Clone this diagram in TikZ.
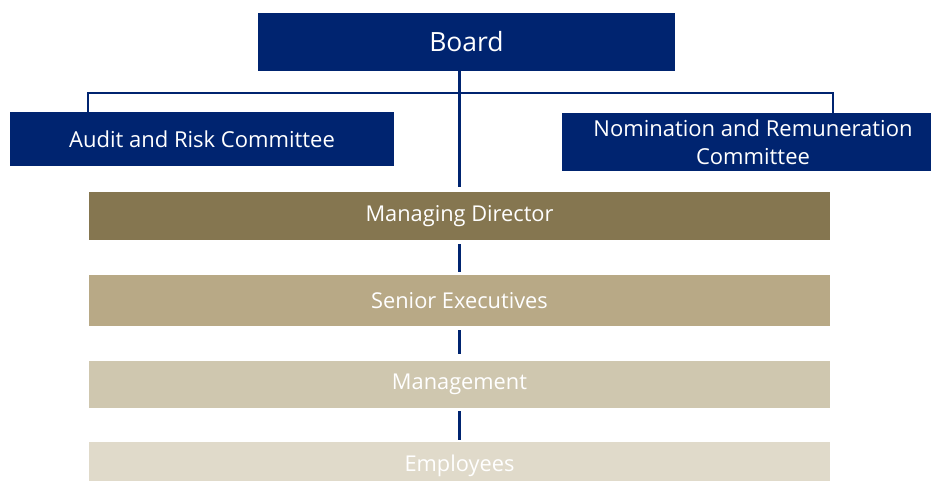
\documentclass[tikz,border=0pt]{standalone}
\usepackage{fontspec}
\setmainfont{Open Sans}
\definecolor{navy}{RGB}{0,36,112}
\definecolor{tierA}{RGB}{133,118,80}
\definecolor{tierB}{RGB}{184,169,134}
\definecolor{tierC}{RGB}{207,199,175}
\definecolor{tierD}{RGB}{224,218,202}
\tikzset{
  navybox/.style={rectangle, fill=navy, text=white, inner sep=0pt, align=center},
  tierbox/.style={rectangle, text=white, inner sep=0pt, minimum width=741pt, font=\fontsize{21.8}{26}\selectfont},
  link/.style={draw=navy, line width=2.4pt}
}
\begin{document}
\begin{tikzpicture}[x=1pt, y=-1pt]
  \useasboundingbox (0,0) rectangle (931,481);
  \clip (0,0) rectangle (931,481);
  % board and committees
  \node[navybox, minimum width=417pt, minimum height=58pt, font=\fontsize{26.5}{30}\selectfont] (board) at (466.5,42) {Board};
  \node[navybox, minimum width=384pt, minimum height=54pt, font=\fontsize{22}{26}\selectfont] (audit) at (202,139) {Audit and Risk Committee};
  \node[navybox, minimum width=382pt, minimum height=58pt, font=\fontsize{22}{28}\selectfont] (nom) at (753,142) {Nomination and Remuneration\\Committee};
  % organisational tiers
  \node[tierbox, fill=tierA, minimum height=48pt] (md) at (459.5,216) {Managing Director};
  \node[tierbox, fill=tierB, minimum height=51pt] (se) at (459.5,300.5) {Senior Executives};
  \node[tierbox, fill=tierC, minimum height=47pt] (mg) at (459.5,384.5) {Management};
  \node[tierbox, fill=tierD, minimum height=47pt] (emp) at (459.5,465.5) {Employees};
  % connectors
  \coordinate (junction) at (460,93);
  \draw[link] (md.north |- board.south) -- ([yshift=5pt]md.north);
  \draw[link] ([xshift=-114pt]audit.north) |- (junction) -| ([xshift=80pt]nom.north);
  \draw[link] ([yshift=-4pt]md.south) -- ([yshift=3pt]se.north);
  \draw[link] ([yshift=-4pt]se.south) -- ([yshift=7pt]mg.north);
  \draw[link] ([yshift=-3pt]mg.south) -- ([yshift=2pt]emp.north);
\end{tikzpicture}
\end{document}
